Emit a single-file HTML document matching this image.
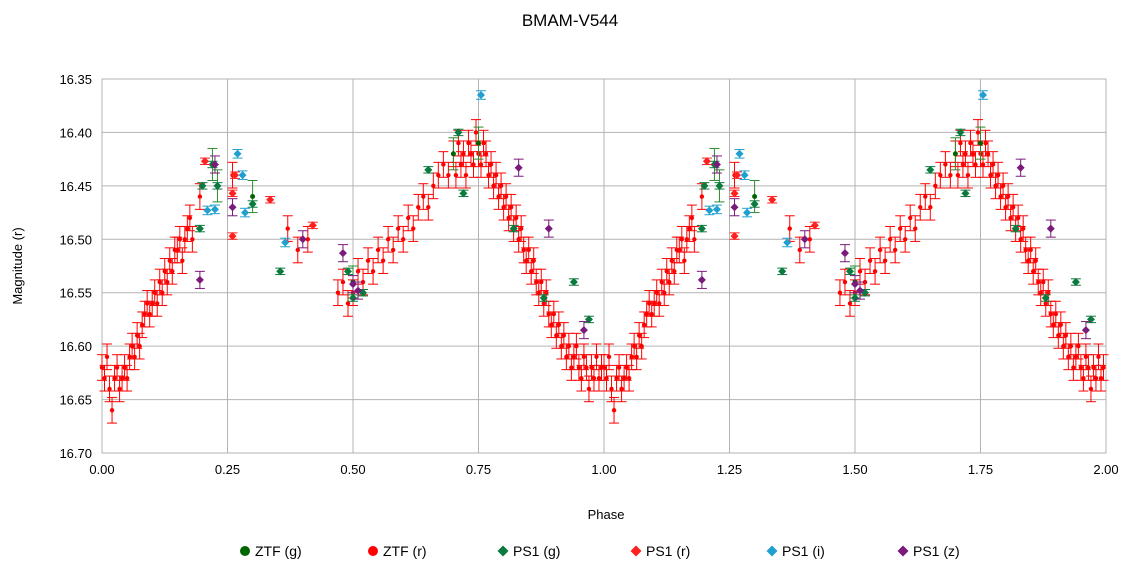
<!DOCTYPE html>
<html><head><meta charset="utf-8"><style>
body{margin:0;background:#fff;font-family:"Liberation Sans",sans-serif}
svg{display:block}
</style></head><body>
<svg id="chart" width="1140" height="579" xmlns="http://www.w3.org/2000/svg">
<rect width="1140" height="579" fill="#fff"/>
<text x="570" y="26" text-anchor="middle" font-size="17">BMAM-V544</text>
<text transform="translate(22,266) rotate(-90)" text-anchor="middle" font-size="13">Magnitude (r)</text>
<text x="606" y="519" text-anchor="middle" font-size="13">Phase</text>
<g id="grid"></g><g id="ticks"></g><g id="marks"></g><g id="legend"></g>
</svg>
<script>
const xTicks=[0,0.25,0.5,0.75,1,1.25,1.5,1.75,2];
const xTickLabels=["0.00","0.25","0.50","0.75","1.00","1.25","1.50","1.75","2.00"];
const yTicks=[16.35,16.40,16.45,16.50,16.55,16.60,16.65,16.70];
const yTickLabels=["16.35","16.40","16.45","16.50","16.55","16.60","16.65","16.70"];
const seriesNames=["ZTF (g)","ZTF (r)","PS1 (g)","PS1 (r)","PS1 (i)","PS1 (z)"];
const ztfR=[[0.00,16.62],[0.005,16.63],[0.01,16.61],[0.015,16.64],[0.02,16.66],[0.025,16.63],[0.03,16.62],[0.035,16.64],[0.04,16.63],[0.045,16.62],[0.05,16.63],[0.055,16.61],[0.06,16.60],[0.065,16.61],[0.07,16.59],[0.075,16.60],[0.08,16.58],[0.085,16.57],[0.09,16.56],[0.095,16.57],[0.10,16.56],[0.105,16.55],[0.11,16.56],[0.115,16.54],[0.12,16.55],[0.125,16.53],[0.13,16.54],[0.135,16.52],[0.14,16.53],[0.145,16.51],[0.15,16.51],[0.155,16.50],[0.16,16.52],[0.165,16.50],[0.17,16.49],[0.175,16.48],[0.18,16.50],[0.195,16.46],[0.26,16.44],[0.37,16.49],[0.39,16.51],[0.41,16.50],[0.47,16.55],[0.48,16.54],[0.49,16.56],[0.50,16.55],[0.51,16.53],[0.52,16.54],[0.53,16.52],[0.54,16.53],[0.55,16.51],[0.56,16.52],[0.57,16.50],[0.58,16.51],[0.59,16.49],[0.60,16.50],[0.61,16.48],[0.62,16.49],[0.63,16.47],[0.64,16.46],[0.65,16.47],[0.66,16.45],[0.67,16.44],[0.68,16.43],[0.69,16.44],[0.70,16.42],[0.705,16.44],[0.71,16.41],[0.715,16.43],[0.72,16.42],[0.725,16.44],[0.73,16.41],[0.735,16.42],[0.74,16.43],[0.745,16.40],[0.75,16.42],[0.755,16.43],[0.76,16.41],[0.765,16.42],[0.77,16.44],[0.775,16.43],[0.78,16.45],[0.785,16.44],[0.79,16.46],[0.795,16.45],[0.80,16.47],[0.805,16.46],[0.81,16.48],[0.815,16.47],[0.82,16.49],[0.825,16.48],[0.83,16.50],[0.835,16.49],[0.84,16.51],[0.845,16.52],[0.85,16.51],[0.855,16.53],[0.86,16.52],[0.865,16.54],[0.87,16.55],[0.875,16.54],[0.88,16.56],[0.885,16.55],[0.89,16.57],[0.895,16.58],[0.90,16.57],[0.905,16.59],[0.91,16.58],[0.915,16.60],[0.92,16.59],[0.925,16.61],[0.93,16.60],[0.935,16.62],[0.94,16.61],[0.945,16.60],[0.95,16.62],[0.955,16.63],[0.96,16.61],[0.965,16.62],[0.97,16.64],[0.975,16.62],[0.98,16.63],[0.985,16.61],[0.99,16.63],[0.995,16.62]];
const ztfG=[[0.22,16.43],[0.23,16.45],[0.30,16.46],[0.50,16.54],[0.70,16.42],[0.75,16.41]];
const ps1G=[[0.195,16.49],[0.20,16.45],[0.22,16.43],[0.23,16.45],[0.30,16.467],[0.355,16.53],[0.49,16.53],[0.50,16.555],[0.52,16.55],[0.65,16.435],[0.71,16.40],[0.72,16.457],[0.82,16.49],[0.88,16.555],[0.94,16.54],[0.97,16.575]];
const ps1R=[[0.205,16.427],[0.26,16.497],[0.26,16.457],[0.265,16.44],[0.335,16.463],[0.42,16.487]];
const ps1I=[[0.21,16.473],[0.225,16.472],[0.27,16.42],[0.28,16.44],[0.285,16.475],[0.365,16.503],[0.755,16.365]];
const ps1Z=[[0.195,16.538],[0.225,16.43],[0.26,16.47],[0.40,16.50],[0.48,16.513],[0.50,16.542],[0.51,16.548],[0.83,16.433],[0.89,16.49],[0.96,16.585]];

const X0=102,X1=1106,Y0=79,Y1=453;
const xs=p=>X0+(p/2)*(X1-X0);
const ys=m=>Y0+(m-16.35)/0.35*(Y1-Y0);
const NS="http://www.w3.org/2000/svg";
function mk(tag,attrs,parent){const e=document.createElementNS(NS,tag);for(const k in attrs)e.setAttribute(k,attrs[k]);parent.appendChild(e);return e;}
const grid=document.getElementById('grid'),ticks=document.getElementById('ticks'),marks=document.getElementById('marks'),legend=document.getElementById('legend');
xTicks.forEach((t,i)=>{
  const l=mk('line',{x1:xs(t),x2:xs(t),y1:Y0,y2:Y1,stroke:'#b3b3b3','stroke-width':1},grid);
  
  
  const tx=mk('text',{x:xs(t),y:Y1+21,'text-anchor':'middle','font-size':13},ticks);
  tx.textContent=xTickLabels[i];
  
  
});
yTicks.forEach((t,i)=>{
  const l=mk('line',{x1:X0,x2:X1,y1:ys(t),y2:ys(t),stroke:'#b3b3b3','stroke-width':1},grid);
  
  
  const tx=mk('text',{x:X0-10,y:ys(t)+5,'text-anchor':'end','font-size':13},ticks);
  tx.textContent=yTickLabels[i];
  
  
});
function errbar(x,y,e,col,g){
  const y1=ys(y-e),y2=ys(y+e);
  mk('line',{x1:x,x2:x,y1:y1,y2:y2,stroke:col,'stroke-width':1},g);
  mk('line',{x1:x-5,x2:x+5,y1:y1,y2:y1,stroke:col,'stroke-width':1},g);
  mk('line',{x1:x-5,x2:x+5,y1:y2,y2:y2,stroke:col,'stroke-width':1},g);
}
function marker(shape,x,y,col,r,g){
  if(shape==='circle')return mk('circle',{cx:x,cy:y,r:r,fill:col},g);
  return mk('polygon',{points:`${x},${y-r} ${x+r},${y} ${x},${y+r} ${x-r},${y}`,fill:col},g);
}
function draw(data,name,shape,col,ecol,err,r){
  const g=mk('g',{},marks);
  
  
  [0,1].forEach(off=>data.forEach(d=>{
    const x=xs(d[0]+off),y=ys(d[1]);
    if(err)errbar(x,d[1],err,ecol,g);
    const m=marker(shape,x,y,col,r,g);
    
    
  }));
}
draw(ztfR,'series-ztf-r','circle','#ff0000','#ff0000',0.012,2.2);
draw(ztfG,'series-ztf-g','circle','#006400','#2e8b2e',0.015,2.5);
draw(ps1G,'series-ps1-g','diamond','#0b7a3e','#0b7a3e',0.003,4);
draw(ps1R,'series-ps1-r','diamond','#ff2020','#ff2020',0.003,4);
draw(ps1I,'series-ps1-i','diamond','#1fa0d0','#1fa0d0',0.004,4);
draw(ps1Z,'series-ps1-z','diamond','#7a1a7a','#7a1a7a',0.008,4);
const border=mk('rect',{x:X0,y:Y0,width:X1-X0,height:Y1-Y0,fill:'none',stroke:'#b3b3b3'},grid);


const legCols=['#006400','#ff0000','#0b7a3e','#ff2020','#1fa0d0','#7a1a7a'];
const legShapes=['circle','circle','diamond','diamond','diamond','diamond'];
const legX=[245,373,503,636,772,903];
seriesNames.forEach((n,i)=>{
  const g=mk('g',{},legend);
  
  
  marker(legShapes[i],legX[i],551,legCols[i],legShapes[i]==='circle'?5:5.5,g);
  const t=mk('text',{x:legX[i]+10,y:556,'font-size':14},g);
  t.textContent=n;
});
</script>
</body></html>
